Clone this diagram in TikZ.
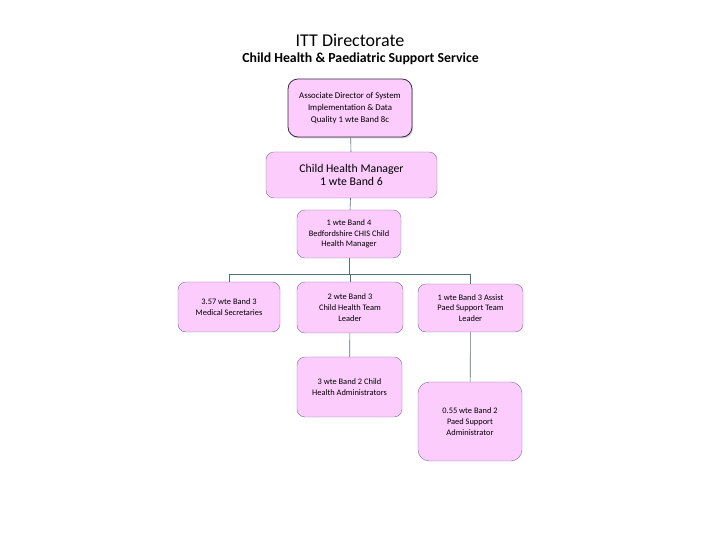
\documentclass[tikz,border=0pt]{standalone}
\usepackage{fontspec}
\setmainfont{Carlito}
\usepackage{tikz}
\usetikzlibrary{arrows.meta,positioning,shadows}

\definecolor{boxfill}{RGB}{252,204,252}
\definecolor{boxline}{RGB}{130,104,160}
\definecolor{linkline}{RGB}{84,110,122}

\begin{document}
\begin{tikzpicture}[
      x=1pt, y=1pt,
      box/.style={
        draw=boxline, fill=boxfill, rounded corners=2.8mm, align=center,
        inner sep=1mm, font=\fontsize{8.4}{10.8}\selectfont
      },
      link/.style={draw=linkline, line width=0.6pt}
    ]
    \useasboundingbox (0,0) rectangle (720,540);
    % TITLES
    \node[font=\fontsize{18}{20}\selectfont] (title) at (350,500) {ITT Directorate};
    \node[font=\bfseries\fontsize{13.8}{15}\selectfont] (subtitle) at (360.5,481.5) {Child Health \& Paediatric Support Service};

    % BOXES
    \node[box, draw=black!60!boxline, line width=0.8pt, drop shadow={opacity=0.35, shadow xshift=1pt, shadow yshift=-1.5pt},
          minimum width=124pt, minimum height=58pt, rounded corners=3.5mm,
          font=\fontsize{8.8}{12}\selectfont] (assoc) at (350,432)
          {Associate Director of System\\Implementation \& Data\\Quality 1 wte Band 8c};
    \node[box, minimum width=171pt, minimum height=46pt, font=\fontsize{11.8}{13.5}\selectfont] (chm) at (351.5,365)
          {Child Health Manager\\1 wte Band 6};
    \node[box, minimum width=104pt, minimum height=48pt] (bedf) at (349,306)
          {1 wte Band 4\\Bedfordshire CHIS Child\\Health Manager};

    \node[box, minimum width=102pt, minimum height=50pt] (medsec) at (229,233)
          {3.57 wte Band 3\\Medical Secretaries};
    \node[box, minimum width=106pt, minimum height=51pt] (chtl) at (350,232.5)
          {2 wte Band 3\\Child Health Team\\Leader};
    \node[box, minimum width=105pt, minimum height=48pt] (pstl) at (470.5,232)
          {1 wte Band 3 Assist\\Paed Support Team\\Leader};

    \node[box, minimum width=105pt, minimum height=60pt] (chadmin) at (349.5,153)
          {3 wte Band 2 Child\\Health Administrators};
    \node[box, minimum width=104pt, minimum height=79pt, rounded corners=4mm] (psadmin) at (470,118.5)
          {0.55 wte Band 2\\Paed Support\\Administrator};

    \coordinate (bus) at (349,266);

    % LINES
    \draw[link] (assoc) -- (chm);
    \draw[link] (chm) -- (bedf);
    \draw[link] (bedf) -- (bedf |- bus);
    \draw[link] (medsec.north) -- (medsec |- bus) -- (pstl |- bus) -- (pstl.north);
    \draw[link] (chtl |- bus) -- (chtl.north);
    \draw[link] (chtl) -- (chadmin);
    \draw[link] (pstl) -- (psadmin);
  \end{tikzpicture}
\end{document}
